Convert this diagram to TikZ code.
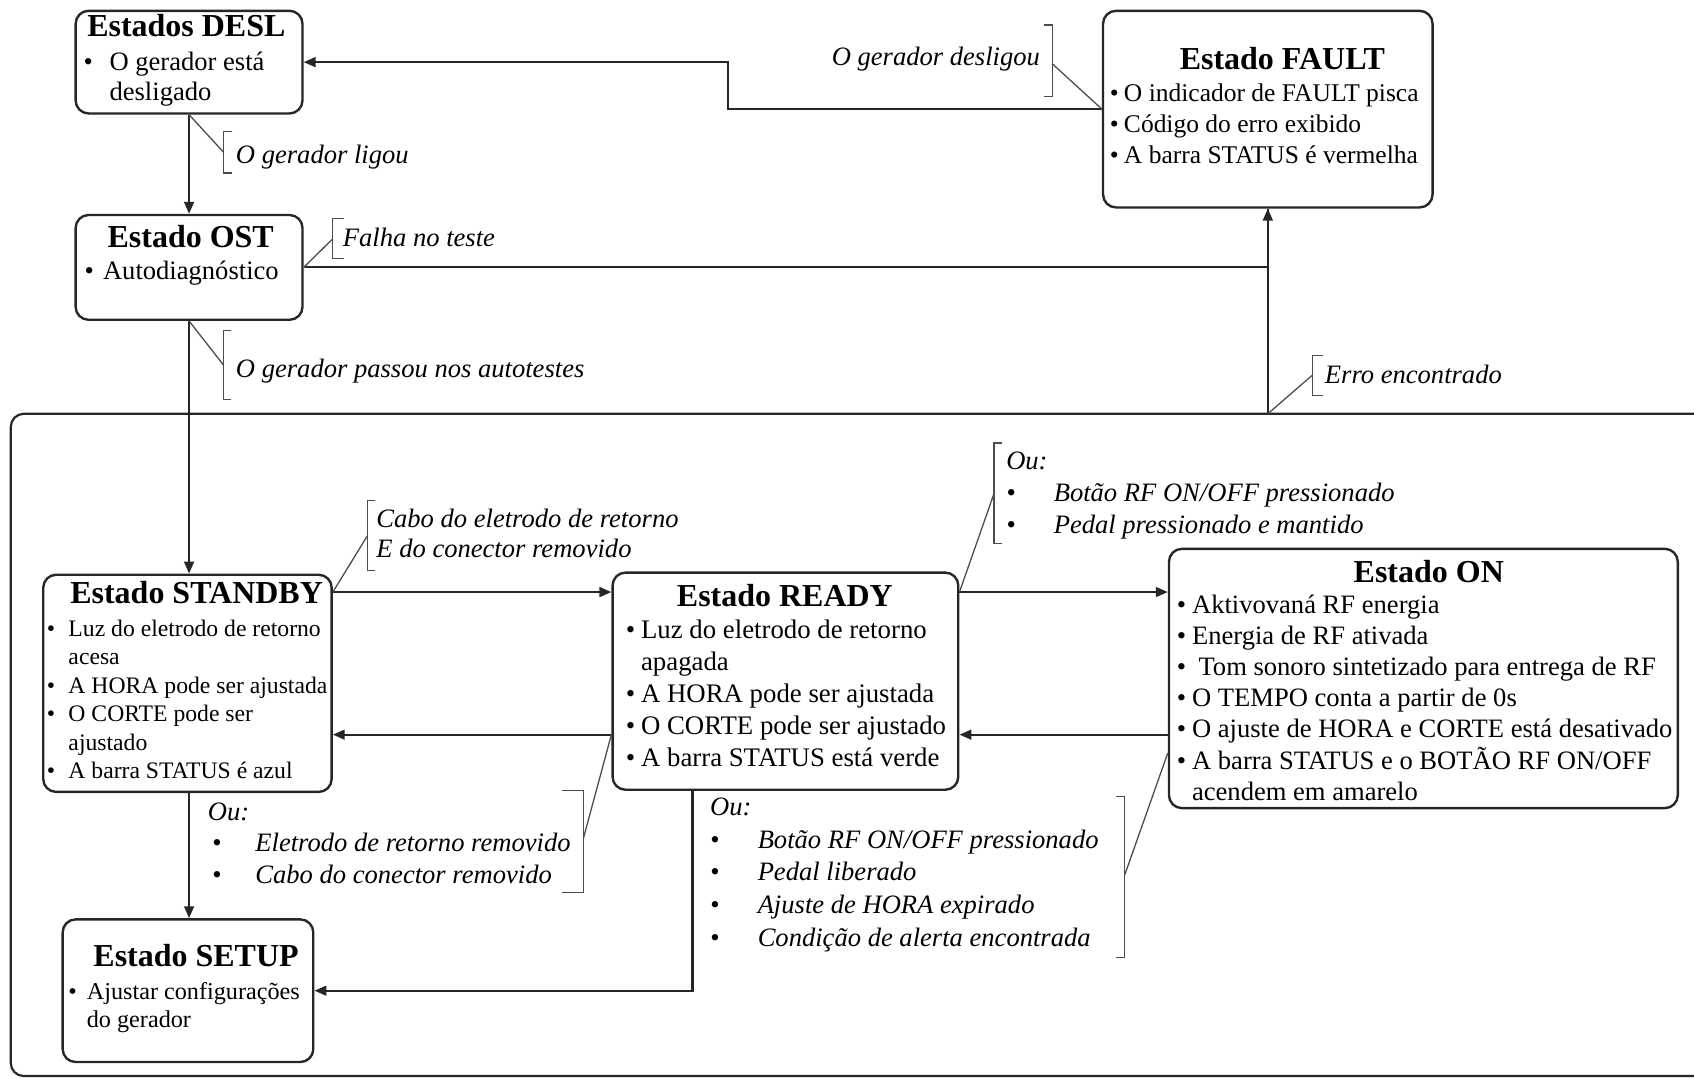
\documentclass[tikz,border=0pt]{standalone}
\usepackage{fontspec}
\setmainfont{Liberation Serif}
\usetikzlibrary{arrows.meta,fit}

\newcommand\bl[1]{\makebox[#1][l]{\textbullet}}
\newcommand\ind[1]{\hspace*{#1}}

\begin{document}
\begin{tikzpicture}[x=0.5pt,y=-0.5pt,
  box/.style={draw=black!85, line width=1.1pt, rounded corners=6pt, inner sep=0pt},
  conn/.style={draw=black!85, line width=1pt},
  arr/.style={conn, -{Triangle[length=5.5pt,width=4.5pt]}},
  brk/.style={draw=black!70, line width=0.6pt},
  ttl/.style={font=\fontsize{14.8}{17}\selectfont\bfseries, inner sep=0pt, anchor=base},
  lst/.style={inner sep=0pt, anchor=base west},
  lbl/.style={inner sep=0pt, anchor=base west, font=\fontsize{12.3}{14}\selectfont\itshape},
]
\useasboundingbox (0,0) rectangle (1568,998);

% container
\draw[conn, rounded corners=6pt] (1568,383) -- (10,383) -- (10,996) -- (1568,996);

% boxes
\node[box, fit={(70,10) (280,105)}] (desl) {};
\node[box, fit={(70,199) (280,296)}] (ost) {};
\node[box, fit={(1021,10) (1326,192)}] (fault) {};
\node[box, fit={(40,532) (307,733)}] (standby) {};
\node[box, fit={(567,530) (887,731)}] (ready) {};
\node[box, fit={(1082,508) (1553,748)}] (on) {};
\node[box, fit={(58,851) (290,983)}] (setup) {};

% titles
\node[ttl] (desl-t) at (172.5,34) {Estados DESL};
\node[ttl] (ost-t) at (176.5,229) {Estado OST};
\node[ttl] (fault-t) at (1187,64) {Estado FAULT};
\node[ttl] (standby-t) at (182,559) {Estado STANDBY};
\node[ttl] (ready-t) at (726.5,561) {Estado READY};
\node[ttl] (on-t) at (1322.5,539) {Estado ON};
\node[ttl] (setup-t) at (181.5,895) {Estado SETUP};

% lists
\node[lst, font=\fontsize{12.3}{14}\selectfont] (desl-l) at (77,65) {\begin{tabular}[t]{@{}l@{}}
\bl{12pt}O gerador está\\ \ind{12pt}desligado\end{tabular}};
\node[lst, font=\fontsize{12.3}{14}\selectfont] (ost-l) at (78,259) {\begin{tabular}[t]{@{}l@{}}
\bl{8.5pt}Autodiagnóstico\end{tabular}};
\node[lst, font=\fontsize{11.8}{14.25}\selectfont] (fault-l) at (1027,94) {\begin{tabular}[t]{@{}l@{}}
\bl{6.5pt}O indicador de FAULT pisca\\
\bl{6.5pt}Código do erro exibido\\
\bl{6.5pt}A barra STATUS é vermelha\end{tabular}};
\node[lst, font=\fontsize{10.95}{13.2}\selectfont] (standby-l) at (43,589) {\begin{tabular}[t]{@{}l@{}}
\bl{10pt}Luz do eletrodo de retorno\\
\ind{10pt}acesa\\
\bl{10pt}A HORA pode ser ajustada\\
\bl{10pt}O CORTE pode ser\\
\ind{10pt}ajustado\\
\bl{10pt}A barra STATUS é azul\end{tabular}};
\node[lst, font=\fontsize{12.4}{14.85}\selectfont] (ready-l) at (579,591) {\begin{tabular}[t]{@{}l@{}}
\bl{7pt}Luz do eletrodo de retorno\\
\ind{7pt}apagada\\
\bl{7pt}A HORA pode ser ajustada\\
\bl{7pt}O CORTE pode ser ajustado\\
\bl{7pt}A barra STATUS está verde\end{tabular}};
\node[lst, font=\fontsize{12.3}{14.35}\selectfont] (on-l) at (1089,568) {\begin{tabular}[t]{@{}l@{}}
\bl{7pt}Aktivovaná RF energia\\
\bl{7pt}Energia de RF ativada\\
\bl{7pt}\hspace*{3pt}Tom sonoro sintetizado para entrega de RF\\
\bl{7pt}O TEMPO conta a partir de 0s\\
\bl{7pt}O ajuste de HORA e CORTE está desativado\\
\bl{7pt}A barra STATUS e o BOTÃO RF ON/OFF\\
\ind{7pt}acendem em amarelo\end{tabular}};
\node[lst, font=\fontsize{11.2}{13}\selectfont] (setup-l) at (63,925) {\begin{tabular}[t]{@{}l@{}}
\bl{8.5pt}Ajustar configurações\\
\ind{8.5pt}do gerador\end{tabular}};

% coordinates
\coordinate (yA) at (0,548);
\coordinate (yB) at (0,680);
\coordinate (yC) at (0,697);
\coordinate (xR) at (641,0);
\coordinate (errstart) at (1173.5,383);

% connectors
\draw[arr] (desl.south) -- (ost.north);
\draw[arr] (ost.south) -- (ost.south |- standby.north);
\draw[arr] (ost.south |- standby.south) -- (ost.south |- setup.north);
\draw[conn] (ost.east) -| (fault.south);
\draw[arr] (errstart) -- (fault.south);
\draw[arr] (fault.west) -- ++(-346,0) |- (desl.east);
\draw[arr] (standby.east |- yA) -- (ready.west |- yA);
\draw[arr] (ready.east |- yA) -- (on.west |- yA);
\draw[arr] (on.west |- yB) -- (ready.east |- yB);
\draw[arr] (ready.west |- yB) -- (standby.east |- yB);
\draw[arr] (ready.south -| xR) |- (setup.east);

% brackets and leader lines
\coordinate (b1) at (207,141);
\draw[brk] (215,122) -- (207,122) -- (207,160) -- (215,160);
\draw[brk] (desl.south) -- (b1);
\node[lbl] (l1) at (218,151) {O gerador ligou};

\coordinate (b2) at (308,221);
\draw[brk] (318,202) -- (308,202) -- (308,239) -- (318,239);
\draw[brk] (ost.east) -- (b2);
\node[lbl] (l2) at (317,228) {Falha no teste};

\coordinate (b3) at (207,338);
\draw[brk] (214,306) -- (207,306) -- (207,370) -- (214,370);
\draw[brk] (ost.south) -- (b3);
\node[lbl] (l3) at (218,349) {O gerador passou nos autotestes};

\coordinate (b4) at (974,59);
\draw[brk] (966,23) -- (974,23) -- (974,89) -- (966,89);
\draw[brk] (b4) -- (fault.west);
\node[lbl, anchor=base east] (l4) at (963,61) {O gerador desligou};

\coordinate (b5) at (1215,347);
\draw[brk] (1225,329) -- (1215,329) -- (1215,366) -- (1225,366);
\draw[brk] (errstart) -- (b5);
\node[lbl] (l5) at (1226,355) {Erro encontrado};

\coordinate (b6) at (340,496);
\draw[brk] (347,463) -- (340,463) -- (340,528) -- (347,528);
\draw[brk] (standby.east |- yA) -- (b6);
\node[lbl] (l6) at (348,488) {\begin{tabular}[t]{@{}l@{}}Cabo do eletrodo de retorno\\E do conector removido\end{tabular}};

\coordinate (b7) at (920,457);
\draw[brk] (927,410) -- (920,410) -- (920,503) -- (927,503);
\draw[brk] (ready.east |- yA) -- (b7);
\node[lbl, font=\fontsize{12.3}{14.75}\selectfont\itshape] (l7) at (931,435) {\begin{tabular}[t]{@{}l@{}}Ou:\\
\bl{22pt}Botão RF ON/OFF pressionado\\
\bl{22pt}Pedal pressionado e mantido\end{tabular}};

\coordinate (b8) at (540,776);
\draw[brk] (520,732) -- (540,732) -- (540,826) -- (520,826);
\draw[brk] (b8) -- (ready.west |- yB);
\node[lbl, font=\fontsize{12.3}{14.75}\selectfont\itshape] (l8) at (192,759) {\begin{tabular}[t]{@{}l@{}}Ou:\\
\hspace*{2pt}\bl{20pt}Eletrodo de retorno removido\\
\hspace*{2pt}\bl{20pt}Cabo do conector removido\end{tabular}};

\coordinate (b9) at (1041,810);
\draw[brk] (1033,737) -- (1041,737) -- (1041,886) -- (1033,886);
\draw[brk] (b9) -- (on.west |- yC);
\node[lbl, font=\fontsize{12.3}{15.1}\selectfont\itshape] (l9) at (657,755) {\begin{tabular}[t]{@{}l@{}}Ou:\\
\bl{22pt}Botão RF ON/OFF pressionado\\
\bl{22pt}Pedal liberado\\
\bl{22pt}Ajuste de HORA expirado\\
\bl{22pt}Condição de alerta encontrada\end{tabular}};

\end{tikzpicture}
\end{document}
